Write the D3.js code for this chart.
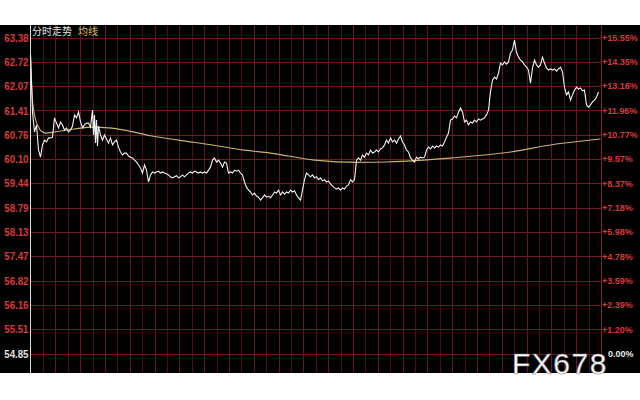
<!DOCTYPE html>
<html><head><meta charset="utf-8">
<script src="https://cdn.jsdelivr.net/npm/d3@7"></script>
<style>
html,body{margin:0;padding:0;background:#fff;}
svg{display:block;}
</style></head>
<body>
<svg id="c" width="640" height="400"></svg>
<script>
const priceTicks = [63.38,62.72,62.07,61.41,60.76,60.10,59.44,58.79,58.13,57.47,56.82,56.16,55.51,54.85];
const pctTicks = ["+15.55%","+14.35%","+13.16%","+11.96%","+10.77%","+9.57%","+8.37%","+7.18%","+5.98%","+4.78%","+3.59%","+2.39%","+1.20%","0.00%"];
const titleLabels = ["分时走势","均线"];

const priceMinutes = [0,1,2,3,4,5,6,7,8,9,10,11,12,13,14,15,16,17,18,19,20,21,22,23,24,25,26,27,28,29,30,
31,31.5,32,32.5,33,33.5,34,35,36,37,38,39,40,41,42,43,44,45,46,47,48,49,50,51,52,53,54,55,56,57,58,59,60,
61,62,63,64,65,66,67,68,69,70,71,72,73,74,75,76,77,78,79,80,81,82,83,84,85,86,87,88,89,90,
91,92,93,94,95,96,97,98,99,100,101,102,103,104,105,106,107,108,109,110,111,112,113,114,115,116,117,118,119,120,
121,122,123,124,125,126,127,128,129,130,131,132,133,134,135,136,137,138,139,140,141,142,143,144,145,146,147,148,149,150,
151,152,153,154,155,156,157,158,159,160,161,162,163,164,165,166,167,168,169,170,171,172,173,174,175,176,177,178,179,180,
181,182,183,184,185,186,187,188,189,190,191,192,193,194,195,196,197,198,199,200,201,202,203,204,205,206,207,208,209,210,
211,212,213,214,215,216,217,218,219,220,221,222,223,224,225,226,227,228,229,230,231,232,233,234,235,236,237,238,239,240,
241,242,243,244,245,246,247,248,249,250,251,252,253,254,255,256,257,258,259,260,261,262,263,264,265,266,267,268,269,270,
271,272,273,274,275,276,277,278,279,280,281,282,283,284,285];
const prices = [62.91,61.37,60.83,61.02,60.34,60.15,60.48,60.61,60.56,60.67,60.67,60.69,61.21,61.07,60.94,61.10,61.02,60.88,60.94,60.83,60.88,60.99,61.29,61.21,61.37,61.10,60.94,61.02,61.07,61.07,60.96,
61.42,60.75,61.29,60.53,61.15,60.45,60.99,60.75,60.61,60.75,60.64,60.53,60.67,60.48,60.56,60.61,60.42,60.29,60.21,60.26,60.26,60.18,60.15,60.13,60.07,60.02,59.94,59.86,59.72,59.94,59.80,59.48,
59.67,59.75,59.72,59.75,59.77,59.72,59.75,59.72,59.70,59.67,59.62,59.59,59.62,59.65,59.59,59.62,59.67,59.62,59.67,59.72,59.75,59.72,59.77,59.75,59.72,59.75,59.72,59.75,59.72,59.80,
59.88,60.07,60.13,60.02,60.07,59.99,59.88,60.02,59.99,59.72,59.75,59.72,59.80,59.77,59.80,59.72,59.67,59.48,59.34,59.26,59.21,59.13,59.18,59.10,59.07,58.99,59.05,59.13,59.07,59.10,
59.05,59.13,59.21,59.18,59.26,59.13,59.21,59.15,59.21,59.18,59.26,59.21,59.24,59.13,59.05,58.99,59.26,59.54,59.72,59.67,59.62,59.67,59.59,59.62,59.54,59.59,59.51,59.54,59.48,59.51,
59.43,59.37,59.32,59.29,59.32,59.26,59.32,59.29,59.37,59.40,59.54,59.48,59.54,60.07,60.13,60.07,60.21,60.15,60.26,60.21,60.34,60.26,60.29,60.34,60.29,60.37,60.40,60.48,60.61,60.53,
60.67,60.56,60.61,60.53,60.64,60.72,60.56,60.48,60.34,60.29,60.13,60.07,60.02,60.15,60.10,60.15,60.13,60.15,60.34,60.42,60.37,60.45,60.40,60.45,60.42,60.48,60.45,60.56,60.69,60.80,
61.15,61.18,61.26,61.21,61.37,61.48,61.37,61.10,61.15,61.02,61.10,61.07,61.15,61.10,61.18,61.15,61.18,61.21,61.29,61.42,61.91,62.23,62.31,62.26,62.42,62.69,62.64,62.72,62.66,62.72,
62.96,63.04,63.31,62.98,62.85,62.77,62.72,62.64,62.58,62.50,62.15,62.56,62.77,62.64,62.58,62.64,62.85,62.69,62.56,62.50,62.53,62.50,62.53,62.47,62.53,62.58,62.45,62.04,61.83,61.91,
61.69,61.83,61.96,62.04,61.99,62.02,61.94,61.96,61.56,61.50,61.56,61.64,61.69,61.77,61.91];

const avgMinutes = [0,1,2,4,6,8,12,22,31,39,47,60,74,91,107,120,142,164,178,211,240,260,285];
const avgPrices = [62.91,61.69,61.29,60.96,60.83,60.80,60.83,60.91,60.96,60.94,60.88,60.73,60.61,60.48,60.34,60.26,60.07,60.01,60.02,60.13,60.29,60.48,60.64];

const svg = d3.select("#c");
const L = 30.5, R = 601, T = 37.5, B = 353.5;

svg.append("rect").attr("x",0).attr("y",25).attr("width",640).attr("height",348).attr("fill","#000");

const x = d3.scaleLinear().domain([0,285]).range([L,600.5]);
const y = d3.scaleLinear().domain([54.85,63.38]).range([B,T]);
const yPct = d3.scaleLinear().domain([0,15.55]).range([B,T]);
const gx = d3.scaleLinear().domain([0,46]).range([L,R]);

// vertical grid
svg.append("g").selectAll("line").data(d3.range(1,46)).join("line")
  .attr("x1",d=>Math.round(gx(d))+0.5).attr("x2",d=>Math.round(gx(d))+0.5)
  .attr("y1",25).attr("y2",373)
  .attr("stroke",d=>d%2===0?"#6a1520":"#4c0f16").attr("stroke-width",1);
// horizontal grid
svg.append("g").selectAll("line").data(priceTicks).join("line")
  .attr("x1",L).attr("x2",R)
  .attr("y1",d=>Math.round(y(d))+0.5).attr("y2",d=>Math.round(y(d))+0.5)
  .attr("stroke","#6e1622").attr("stroke-width",1);
// right border
svg.append("line").attr("x1",R+0.5).attr("x2",R+0.5).attr("y1",25).attr("y2",373).attr("stroke","#8a1c24");
// left axis white
svg.append("line").attr("x1",L).attr("x2",L).attr("y1",25).attr("y2",373).attr("stroke","#d8d8d8").attr("stroke-width",1);

function squeeze(sel, f){
  sel.each(function(){ const w=this.getComputedTextLength(); d3.select(this).attr("textLength",w*f).attr("lengthAdjust","spacingAndGlyphs"); });
}

// left labels
const ga = svg.append("g").attr("transform",`translate(${L-1},0)`)
  .call(d3.axisLeft(y).tickValues(priceTicks).tickSize(0).tickPadding(1).tickFormat(d3.format(".2f")));
ga.select(".domain").remove();
ga.selectAll("text").attr("fill",(d,i)=>i===priceTicks.length-1?"#e0e0e0":"#d83a3a")
  .style("font-family","Liberation Sans, Arial, sans-serif").style("font-size","11px").style("font-weight","bold");
squeeze(ga.selectAll("text"),0.88);

// right labels
const gr = svg.append("g").attr("transform",`translate(${R+1},0)`)
  .call(d3.axisRight(yPct).tickValues(pctTicks.map(s=>parseFloat(s))).tickSize(0).tickPadding(0).tickFormat((d,i)=>pctTicks[i]));
gr.select(".domain").remove();
gr.selectAll("text").attr("fill",(d,i)=>i===pctTicks.length-1?"#e8e8e8":"#d83a3a")
  .attr("x",(d,i)=>i===pctTicks.length-1?6:0)
  .style("font-family","Liberation Sans, Arial, sans-serif").style("font-size","9px").style("font-weight","bold");

// average line
svg.append("path").datum(avgMinutes.map((m,i)=>[m,avgPrices[i]]))
  .attr("d",d3.line().x(d=>x(d[0])).y(d=>y(d[1])).curve(d3.curveMonotoneX))
  .attr("fill","none").attr("stroke","#c9b46a").attr("stroke-width",1.1);

// price line
svg.append("path").datum(priceMinutes.map((m,i)=>[m,prices[i]]))
  .attr("d",d3.line().x(d=>x(d[0])).y(d=>y(d[1])))
  .attr("fill","none").attr("stroke","#f2f2f2").attr("stroke-width",1.1);

// header
svg.append("text").attr("x",32).attr("y",35).text(titleLabels[0])
  .attr("fill","#e0e0e0").style("font-family","Noto Sans CJK SC").style("font-size","10px");
svg.append("text").attr("x",78).attr("y",35).text(titleLabels[1])
  .attr("fill","#d8c45a").style("font-family","Noto Sans CJK SC").style("font-size","10px");

// watermark
svg.append("text").attr("x",512).attr("y",374).text("FX678")
  .attr("fill","#ffffff").attr("stroke","#888").attr("stroke-width",0.6)
  .style("font-family","Liberation Sans, Arial, sans-serif").style("font-size","30px").style("letter-spacing","1.5px");
</script>
</body></html>
